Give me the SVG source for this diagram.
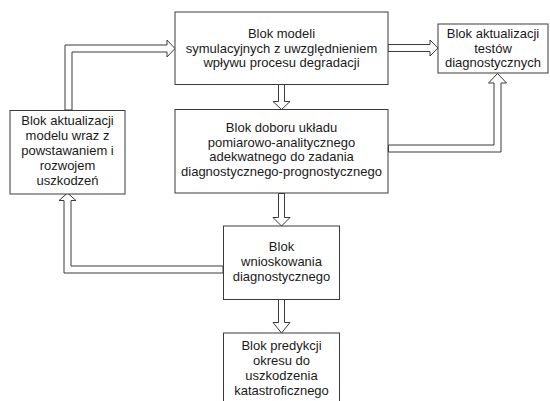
<svg xmlns="http://www.w3.org/2000/svg" width="550" height="401" viewBox="0 0 550 401">
<style>
.box{fill:#fff;stroke:#3a3a3a;stroke-width:1}
.arr{fill:#fff;stroke:#3a3a3a;stroke-width:1;stroke-linejoin:miter}
text{font-family:"Liberation Sans",Arial,sans-serif;font-size:13px;fill:#1a1a1a;text-anchor:middle}
</style>
<rect width="550" height="401" fill="#fff"/>
<g id="connectors">
<polygon class="arr" points="65,110 65,45 167,45 167,40 175,48.5 167,57 167,52 72,52 72,110"/>
<polygon class="arr" points="388,44.5 430,44.5 430,40 438,48 430,56 430,51.5 388,51.5"/>
<polygon class="arr" points="278.5,84.5 278.5,101.5 273,101.5 281.5,109.5 290,101.5 284.5,101.5 284.5,84.5"/>
<polygon class="arr" points="388.5,145 494,145 494,83 488.5,83 497.5,73.5 506.5,83 501,83 501,152 388.5,152"/>
<polygon class="arr" points="278.5,193.5 278.5,217.5 273,217.5 281.5,226 290,217.5 284.5,217.5 284.5,193.5"/>
<polygon class="arr" points="223,266 71,266 71,200.5 76,200.5 67.5,193 59,200.5 64,200.5 64,273 223,273"/>
<polygon class="arr" points="278.5,299.5 278.5,322.5 273,322.5 281.5,333 290,322.5 284.5,322.5 284.5,299.5"/>
</g>
<g id="n_symulacja">
<rect class="box" x="175" y="12" width="213" height="72.5"/>
<text x="281.5" y="37.5">Blok modeli</text>
<text x="281.5" y="52.5">symulacyjnych z uwzględnieniem</text>
<text x="281.5" y="67">wpływu procesu degradacji</text>
</g>
<g id="n_testy">
<rect class="box" x="438" y="24" width="110" height="49"/>
<text x="493" y="38">Blok aktualizacji</text>
<text x="493" y="52.5">testów</text>
<text x="493" y="67">diagnostycznych</text>
</g>
<g id="n_aktualizacja">
<rect class="box" x="10" y="110.5" width="115" height="83.5"/>
<text x="67.5" y="125">Blok aktualizacji</text>
<text x="67.5" y="140">modelu wraz z</text>
<text x="67.5" y="155">powstawaniem i</text>
<text x="67.5" y="170">rozwojem</text>
<text x="67.5" y="185">uszkodzeń</text>
</g>
<g id="n_dobor">
<rect class="box" x="175" y="109.5" width="213" height="83.5"/>
<text x="281.5" y="132">Blok doboru układu</text>
<text x="281.5" y="146.5">pomiarowo-analitycznego</text>
<text x="281.5" y="161">adekwatnego do zadania</text>
<text x="281.5" y="175.5">diagnostycznego-prognostycznego</text>
</g>
<g id="n_wnioskowanie">
<rect class="box" x="223.5" y="226" width="116" height="73.5"/>
<text x="281.5" y="251">Blok</text>
<text x="281.5" y="266">wnioskowania</text>
<text x="281.5" y="280.5">diagnostycznego</text>
</g>
<g id="n_predykcja">
<rect class="box" x="223.5" y="333" width="116" height="80"/>
<text x="281.5" y="349.5">Blok predykcji</text>
<text x="281.5" y="364.5">okresu do</text>
<text x="281.5" y="379.5">uszkodzenia</text>
<text x="281.5" y="394.5">katastroficznego</text>
</g>
</svg>
